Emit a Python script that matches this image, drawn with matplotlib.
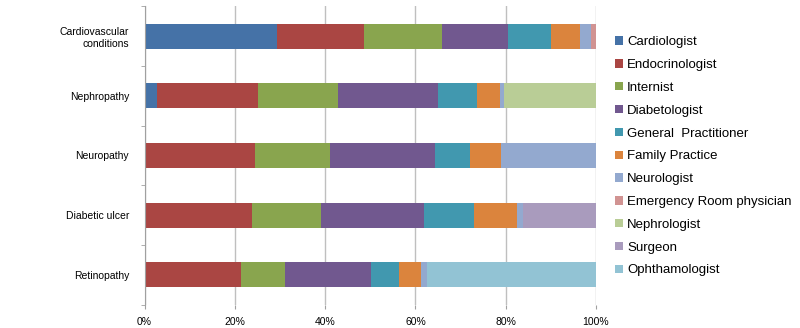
import numpy as np
import matplotlib
matplotlib.use("Agg")
import matplotlib.pyplot as plt
from matplotlib.ticker import FixedLocator

plt.rcParams["font.family"] = ["Liberation Sans", "DejaVu Sans"]

conditions = ["Cardiovascular\nconditions", "Nephropathy", "Neuropathy",
              "Diabetic ulcer", "Retinopathy"]
specialties = ["Cardiologist", "Endocrinologist", "Internist", "Diabetologist",
               "General  Practitioner", "Family Practice", "Neurologist",
               "Emergency Room physician", "Nephrologist", "Surgeon",
               "Ophthamologist"]

# percent share per specialty, one list per condition order above
cardiologist = [29.4, 2.8, 0, 0, 0]
endocrinologist = [19.3, 22.4, 24.4, 23.9, 21.3]
internist = [17.3, 17.6, 16.7, 15.2, 9.9]
diabetologist = [14.6, 22.1, 23.3, 22.9, 18.9]
general_practitioner = [9.4, 8.7, 7.8, 10.9, 6.2]
family_practice = [6.4, 5.1, 6.8, 9.7, 4.9]
neurologist = [2.6, 0.9, 21.0, 1.2, 1.3]
emergency_room = [1.0, 0, 0, 0, 0]
nephrologist = [0, 20.4, 0, 0, 0]
surgeon = [0, 0, 0, 16.2, 0]
ophthamologist = [0, 0, 0, 0, 37.5]

series = [cardiologist, endocrinologist, internist, diabetologist,
          general_practitioner, family_practice, neurologist, emergency_room,
          nephrologist, surgeon, ophthamologist]
colors = ["#4572A7", "#AA4643", "#89A54E", "#71588F", "#4198AF", "#DB843D",
          "#93A9CF", "#D19392", "#B9CD96", "#A99BBD", "#92C3D4"]

fig = plt.figure(figsize=(8, 3.28), dpi=100)
ax = fig.add_axes([144.5 / 800, 23.4 / 328, 451.5 / 800, 298.4 / 328])

y = np.arange(len(conditions))
left = np.zeros(len(conditions))
for name, vals, col in zip(specialties, series, colors):
    vals = np.array(vals, dtype=float)
    ax.barh(y, vals, left=left, height=0.42, color=col, label=name,
            edgecolor="none")
    left += vals

ax.set_xlim(0, 100)
ax.set_ylim(len(conditions) - 0.5, -0.5)
ax.set_xticks(np.arange(0, 101, 20))
ax.set_xticklabels([f"{v}%" for v in range(0, 101, 20)], fontsize=7.5)
ax.tick_params(axis="x", length=3, color="#A0A0A0", pad=6)
ax.set_yticks(y)
ax.set_yticklabels(conditions, fontsize=7.5)
ax.tick_params(axis="y", which="major", length=0, pad=11)
ax.yaxis.set_minor_locator(FixedLocator(np.arange(-0.5, len(conditions), 1)))
ax.tick_params(axis="y", which="minor", length=3, color="#A0A0A0")
ax.grid(axis="x", color="#BFBFBF", linewidth=1)
ax.set_axisbelow(True)
for s in ["top", "right", "bottom"]:
    ax.spines[s].set_visible(False)
ax.spines["left"].set_color("#A0A0A0")

fig.legend(loc="upper left", bbox_to_anchor=(610 / 800, 1 - 31 / 328),
           frameon=False, fontsize=9.5, handlelength=0.6, handleheight=0.6,
           handletextpad=0.3, labelspacing=0.82, borderaxespad=0)

fig.savefig("out.png", dpi=100)
